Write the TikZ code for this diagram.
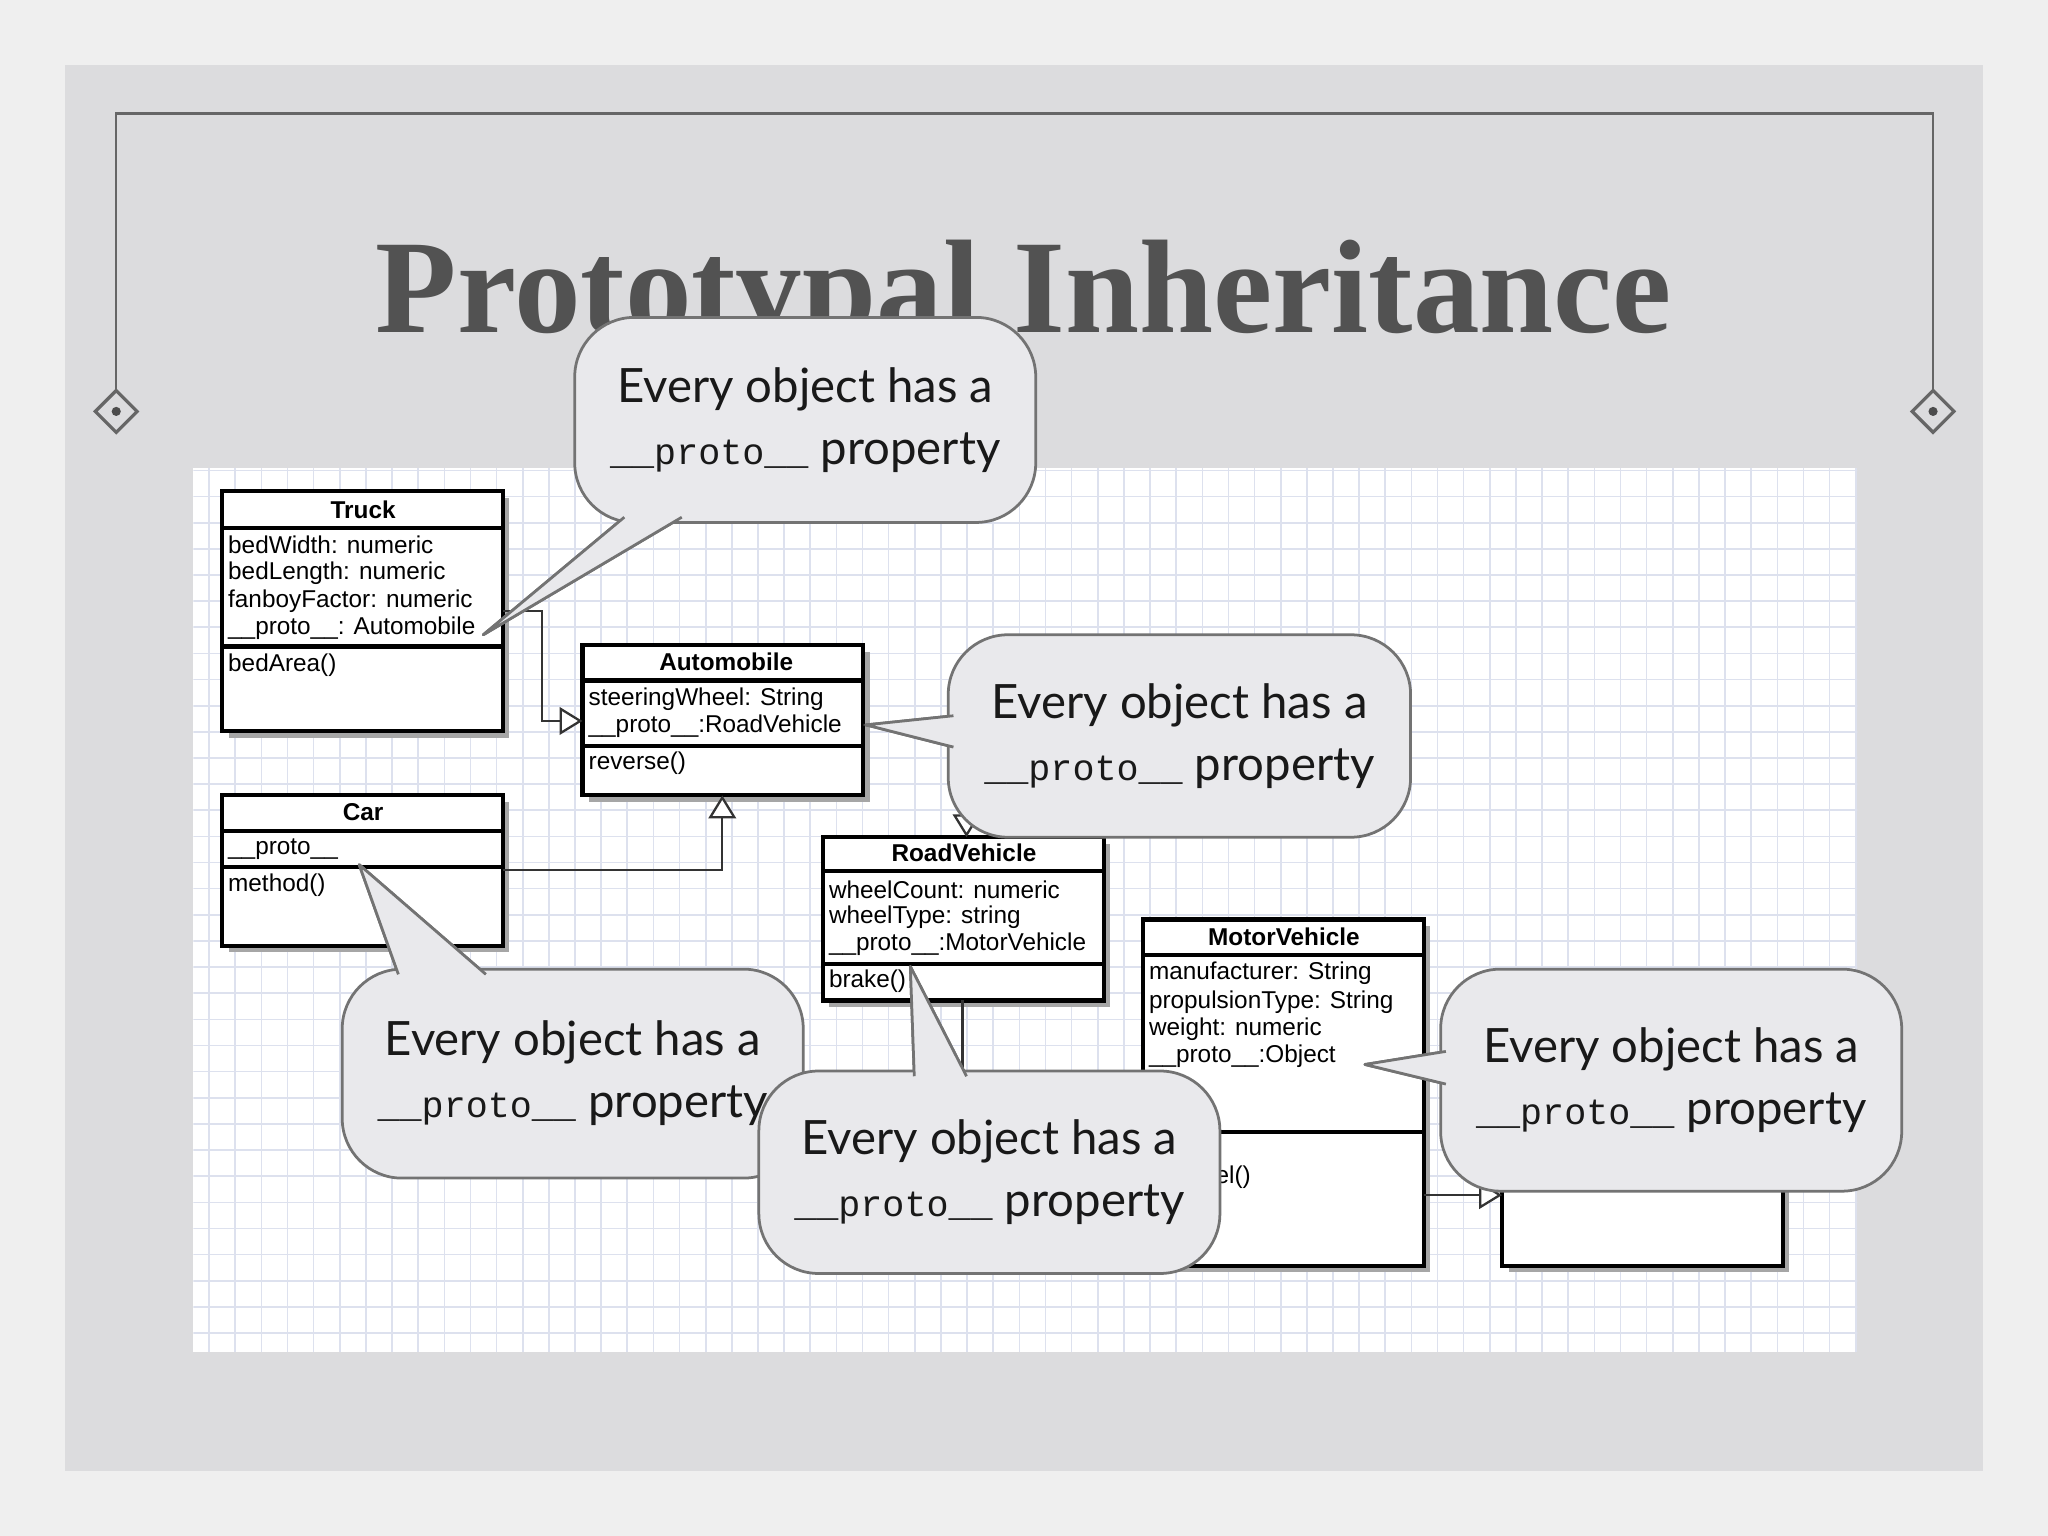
\documentclass[tikz,border=0pt]{standalone}
\usepackage{fontspec}
\setmainfont{Liberation Serif}
\newfontfamily\umlf{Liberation Sans}
\newfontfamily\callf{Lato}
\newfontfamily\monof{Liberation Mono}
\usetikzlibrary{arrows.meta}
\definecolor{paper}{HTML}{EFEFEF}
\definecolor{panel}{HTML}{DCDCDE}
\definecolor{callfill}{HTML}{E9E9EC}
\definecolor{gridc}{HTML}{DDE1EE}
\tikzset{
 umltxt/.style={anchor=west,font=\umlf\fontsize{5.3}{6}\selectfont,inner sep=0pt},
 umltitle/.style={font=\umlf\bfseries\fontsize{5.3}{6}\selectfont,inner sep=0pt},
 umlbox/.style={draw=black,line width=0.9pt,fill=white},
 shad/.style={fill=black!35},
 conn/.style={draw=black!80,line width=0.5pt},
 inh/.style={conn,-{Triangle[open,length=5pt,width=6pt,fill=white]}},
 callbox/.style={draw=black!55,line width=0.6pt,fill=callfill,rounded corners=13pt},
 callptr/.style={draw=black!55,line width=0.6pt,fill=callfill,line join=round},
 calltxt/.style={font=\callf\fontsize{10.3}{13.5}\selectfont,align=center,text=black!90}
}
\newcommand{\calltext}{Every object has a\\{\monof\fontsize{8}{10}\selectfont\_\_proto\_\_} property}
\begin{document}
\begin{tikzpicture}[x=0.01cm,y=-0.01cm]
\useasboundingbox (0,0) rectangle (1568,1176);
\fill[paper] (0,0) rectangle (1568,1176);
\fill[panel] (50,50) rectangle (1518,1126);
\draw[black!60,line width=0.5pt] (89,308) -- (89,87) -- (1480,87) -- (1480,308);
\foreach \xx in {89,1480}{
 \draw[black!60,line width=0.7pt,fill=panel] (\xx,299) -- (\xx+16,315) -- (\xx,331) -- (\xx-16,315) -- cycle;
 \fill[black!70] (\xx,315) circle (3.5);}
\node[font=\bfseries\fontsize{29}{32}\selectfont,text=black!68] (title) at (784,230) {Prototypal Inheritance};
% grid
\fill[white] (148,358) rectangle (1422,1035);
\begin{scope}
\clip (148,358) rectangle (1422,1035);
\draw[gridc,line width=0.35pt,step=0.2cm] (148,358) grid (1430,1040);
\end{scope}
\newcommand{\umlbox}[6]{%
 \fill[shad] (#1+5,#2+5) rectangle (#3+5,#4+5);
 \draw[umlbox] (#1,#2) rectangle (#3,#4);
 \draw[line width=0.9pt] (#1,#5) -- (#3,#5);
 \draw[line width=0.9pt] (#1,#6) -- (#3,#6);}
\umlbox{170}{376}{385}{560}{404}{495}
\node[umltitle] (truck) at (278,390) {Truck};
\node[umltxt] (t1) at (174,417) {bedWidth: numeric};
\node[umltxt] (t2) at (174,439) {bedLength: numeric};
\node[umltxt] (t3) at (174,460) {fanboyFactor: numeric};
\node[umltxt] (t4) at (174,481) {\_\_proto\_\_: Automobile};
\node[umltxt] (t5) at (174,509) {bedArea()};
\umlbox{446}{494}{661}{609}{521}{571}
\node[umltitle] (auto) at (556,507) {Automobile};
\node[umltxt] (a1) at (450,535) {steeringWheel: String};
\node[umltxt] (a2) at (450,556) {\_\_proto\_\_:RoadVehicle};
\node[umltxt] (a3) at (450,584) {reverse()};
\umlbox{170}{609}{385}{724}{636}{664}
\node[umltitle] (car) at (278,622) {Car};
\node[umltxt] (c1) at (174,650) {\_\_proto\_\_};
\node[umltxt] (c2) at (174,678) {method()};
\umlbox{630}{641}{845}{766}{667}{738}
\node[umltitle] (road) at (738,653) {RoadVehicle};
\node[umltxt] (r1) at (634,681) {wheelCount: numeric};
\node[umltxt] (r2) at (634,702) {wheelType: string};
\node[umltxt] (r3) at (634,723) {\_\_proto\_\_:MotorVehicle};
\node[umltxt] (r4) at (634,751) {brake()};
\umlbox{875}{704}{1090}{969}{731}{867}
\node[umltitle] (motor) at (983,717) {MotorVehicle};
\node[umltxt] (m1) at (879,745) {manufacturer: String};
\node[umltxt] (m2) at (879,767) {propulsionType: String};
\node[umltxt] (m3) at (879,788) {weight: numeric};
\node[umltxt] (m4) at (879,809) {\_\_proto\_\_:Object};
\node[umltxt] (m5) at (930,901) {el()};
\fill[shad] (1155,885) rectangle (1370,974);
\draw[umlbox] (1150,880) rectangle (1365,969);
\coordinate (tp) at (385,468);
\coordinate (tk1) at (415,468);
\coordinate (tk2) at (415,552);
\coordinate (ain) at (446,552);
\draw[inh] (tp) -- (tk1) -- (tk2) -- (ain);
\coordinate (cp) at (385,666);
\coordinate (ck) at (553,666);
\coordinate (abot) at (553,609);
\draw[inh] (cp) -- (ck) -- (abot);
\coordinate (ap) at (661,555);
\coordinate (rtop) at (740,641);
\draw[inh] (ap) -- (740,560) -- (rtop);
\coordinate (rb) at (737,766);
\draw[conn] (rb) -- (737,830);
\coordinate (mp) at (1090,915);
\coordinate (ob) at (1150,915);
\draw[inh] (mp) -- (ob);
\newcommand{\callout}[8]{%
 \draw[callptr] #5 -- #7 -- #6;
 \draw[callbox] (#1,#2) rectangle (#3,#4);
 \fill[callfill] #5 -- #7 -- #6 -- cycle;
 \draw[black!55,line width=0.6pt,line join=round] #5 -- #7 -- #6;
 \node[calltxt] (#8) at ({(#1+#3)/2},{(#2+#4)/2}) {\calltext};}
\callout{440}{243}{793}{400}{(478,396)}{(522,396)}{(370,486)}{call1}
\callout{726}{486}{1080}{641}{(730,548)}{(730,572)}{(663,555)}{call2}
\callout{262}{742}{615}{902}{(305,746)}{(372,746)}{(275,662)}{call3}
\callout{581}{820}{934}{975}{(700,824)}{(740,824)}{(697,740)}{call4}
\callout{1103}{742}{1456}{912}{(1107,805)}{(1107,830)}{(1045,815)}{call5}
\end{tikzpicture}
\end{document}
